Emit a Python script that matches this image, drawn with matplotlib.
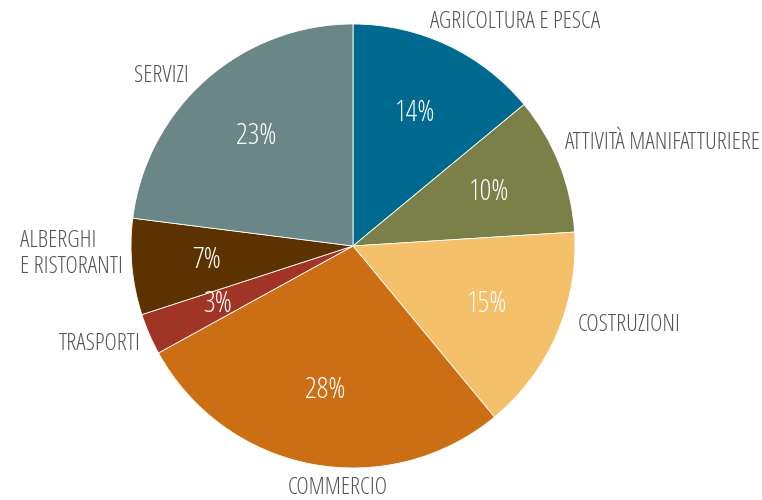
import numpy as np
import matplotlib.pyplot as plt
import matplotlib as mpl

sectors = ["AGRICOLTURA E PESCA", "ATTIVITÀ MANIFATTURIERE", "COSTRUZIONI",
           "COMMERCIO", "TRASPORTI", "ALBERGHI\nE RISTORANTI", "SERVIZI"]
shares = [14, 10, 15, 28, 3, 7, 23]
colors = ["#006990", "#7b8049", "#f4c069", "#cc6f14", "#a03525", "#5c3300", "#6b8686"]

# label anchors in pixel space (x, y from top) and alignment
label_pos = [(515, 22, "center"), (565, 143, "left"), (578, 325, "left"),
             (338, 488, "center"), (141, 344, "right"), (20, 254, "left"),
             (161, 76, "center")]

CX, CY, R = 353, -246, 222

mpl.rcParams["font.family"] = ["Open Sans", "DejaVu Sans"]
mpl.rcParams["font.stretch"] = "condensed"

fig = plt.figure(figsize=(7.62, 5.0), dpi=100)
ax = fig.add_axes([0, 0, 1, 1])

wedges, texts = ax.pie(shares, colors=colors, startangle=90, counterclock=False,
                       center=(CX, CY), radius=R,
                       wedgeprops=dict(linewidth=0.6, edgecolor="white"),
                       frame=True)
ax.set_xlim(0, 762)
ax.set_ylim(-500, 0)
ax.axis("off")

cum = np.cumsum([0] + shares)
for i, w in enumerate(wedges):
    mid = np.deg2rad(90 - (cum[i] + shares[i] / 2) * 3.6)
    r = R * 0.66
    ax.text(CX + r * np.cos(mid), CY + r * np.sin(mid), f"{shares[i]}%",
            ha="center", va="center", color="white", fontsize=21)

for name, (x, y, ha) in zip(sectors, label_pos):
    ax.text(x, -y, name, ha=ha, va="center", color="#555555", fontsize=17,
            linespacing=1.15)

fig.savefig("out.png", dpi=100)
